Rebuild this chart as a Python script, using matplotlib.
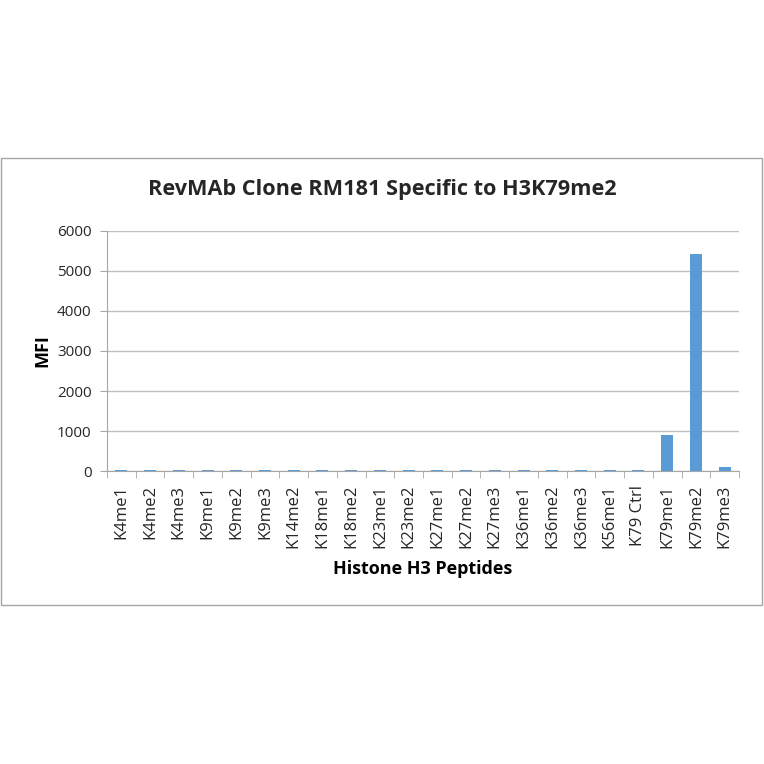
import matplotlib.pyplot as plt
import numpy as np

peptides = ['K4me1', 'K4me2', 'K4me3', 'K9me1', 'K9me2', 'K9me3', 'K14me2',
            'K18me1', 'K18me2', 'K23me1', 'K23me2', 'K27me1', 'K27me2',
            'K27me3', 'K36me1', 'K36me2', 'K36me3', 'K56me1', 'K79 Ctrl',
            'K79me1', 'K79me2', 'K79me3']
mfi = [25, 25, 25, 25, 25, 25, 25, 25, 25, 25, 25, 25, 25, 25, 25, 25, 25,
       25, 25, 900, 5420, 90]
y_ticks = [0, 1000, 2000, 3000, 4000, 5000, 6000]

plt.rcParams['font.family'] = ['Open Sans', 'DejaVu Sans']

fig = plt.figure(figsize=(7.64, 7.64), dpi=100)
# outer frame of the chart
frame = plt.Rectangle((1 / 764, 1 - 605 / 764), 761 / 764, 447 / 764,
                      transform=fig.transFigure, fill=False,
                      edgecolor='#a6a6a6', linewidth=1)
fig.patches.append(frame)

ax = fig.add_axes([107 / 764, 1 - 471 / 764, 632 / 764, 240 / 764])
x = np.arange(len(peptides))
ax.bar(x, mfi, width=0.42, color='#5b9bd5', zorder=3)

ax.set_xlim(-0.5, len(peptides) - 0.5)
ax.set_ylim(0, 6000)
ax.set_yticks(y_ticks)
ax.set_yticklabels([str(t) for t in y_ticks], fontsize=11, color='#262626')
ax.yaxis.grid(True, color='#bfbfbf', linewidth=1, zorder=0)
ax.tick_params(axis='y', length=5, color='#a6a6a6', pad=6)

ax.set_xticks(x)
ax.set_xticklabels(peptides, rotation=90, fontsize=12, color='#262626')
ax.tick_params(axis='x', length=0, pad=10)
ax.set_xticks(np.arange(-0.5, len(peptides)), minor=True)
ax.tick_params(axis='x', which='minor', length=5, color='#a6a6a6')

for side in ['top', 'right']:
    ax.spines[side].set_visible(False)
ax.spines['left'].set_color('#a6a6a6')
ax.spines['bottom'].set_color('#a6a6a6')

ax.set_ylabel('MFI', fontsize=13, fontweight='bold', labelpad=4)
ax.set_xlabel('Histone H3 Peptides', fontsize=13, fontweight='bold', labelpad=8)
fig.text(382 / 764, 1 - 190 / 764, 'RevMAb Clone RM181 Specific to H3K79me2',
         ha='center', va='center', fontsize=15.6, fontweight='bold',
         color='#262626')

fig.savefig('out.png', dpi=100, facecolor='white')
